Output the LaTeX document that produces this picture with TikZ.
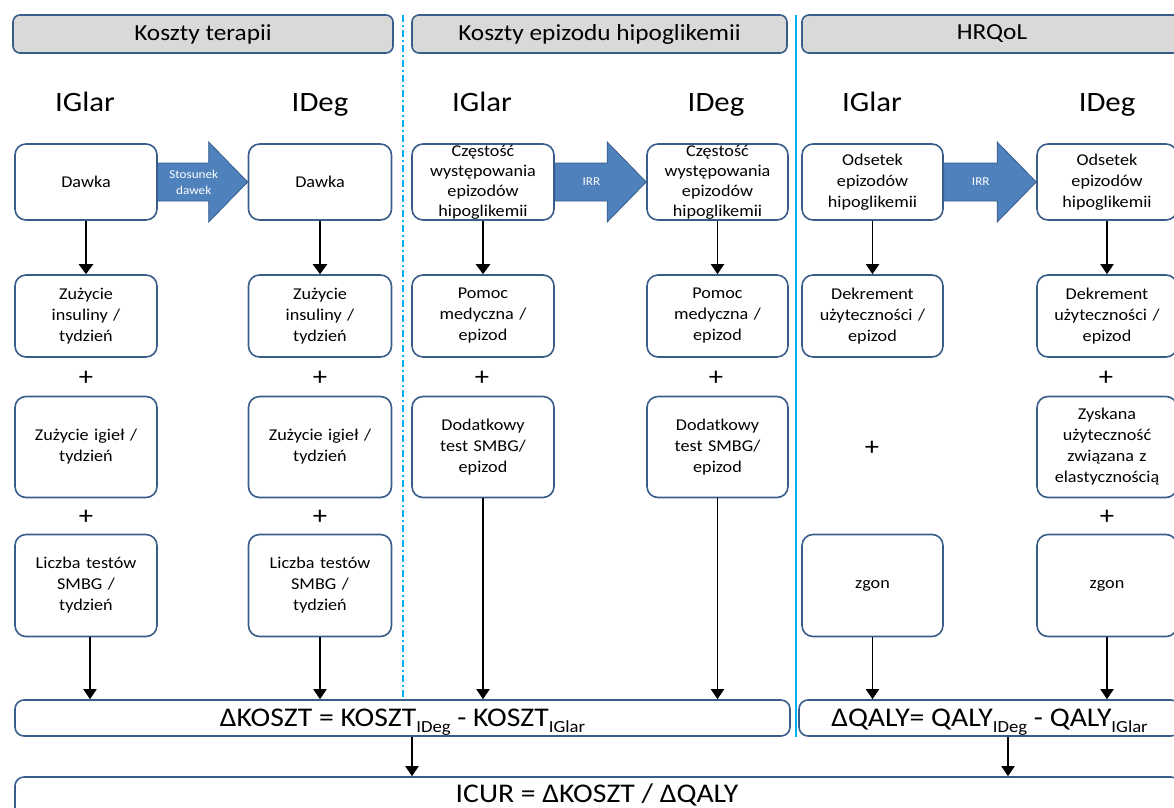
\documentclass[tikz,border=0pt]{standalone}
\usepackage{fontspec}
\setmainfont{Carlito}[FakeStretch=1.1]
\usetikzlibrary{arrows.meta,calc}
\definecolor{boxblue}{RGB}{56,93,138}
\definecolor{arrfill}{RGB}{79,129,189}
\definecolor{hdrgray}{RGB}{217,217,217}
\definecolor{divblue}{RGB}{0,176,240}
\newcommand{\myblockarrow}[3]{%
  \draw[blockarr] ($(#1.east)+(0,-19)$) -- ($(#2.west)+(-39,-19)$) -- ($(#2.west)+(-39,-40)$) -- (#2.west) -- ($(#2.west)+(-39,40)$) -- ($(#2.west)+(-39,19)$) -- ($(#1.east)+(0,19)$) -- cycle;
  \node[arrlabel] at ($(#1.east)!0.4!(#2.west)$) {#3};
}
\newcommand{\mysub}[1]{\raisebox{-6pt}{\fontsize{17}{17}\selectfont #1}}
\begin{document}
\begin{tikzpicture}[x=1pt,y=-1pt,
  box/.style={draw=boxblue, line width=1.6pt, rounded corners=11pt, fill=white, align=center,
    inner sep=0pt, text width=136pt, font=\fontsize{16.5}{21}\selectfont},
  hdr/.style={draw=boxblue, line width=1.6pt, rounded corners=7pt, fill=hdrgray, inner sep=0pt,
    minimum height=38pt, font=\fontsize{23}{23}\selectfont},
  lbl/.style={font=\fontsize{28}{28}\selectfont, inner sep=0pt, anchor=base},
  plus/.style={font=\fontsize{26}{26}\selectfont, inner sep=0pt},
  blockarr/.style={fill=arrfill, draw=boxblue, line width=0.8pt, line join=miter},
  arrlabel/.style={text=white, align=center, inner sep=0pt, font=\fontsize{12}{16}\selectfont},
  thickarr/.style={line width=2.6pt, -{Triangle[width=14pt,length=10pt]}},
  arr/.style={line width=1.8pt, -{Triangle[width=13pt,length=10pt]}},
  formula/.style={draw=boxblue, line width=1.6pt, rounded corners=9pt, fill=white, inner sep=0pt,
    minimum height=36pt, text height=17pt, text depth=0pt, font=\fontsize{27}{27}\selectfont},
]
\useasboundingbox (0,0) rectangle (1174,807);

% dividers
\draw[divblue, line width=2pt, dash pattern=on 7pt off 3pt on 2pt off 3pt] (403,15) -- (403,700);
\draw[divblue, line width=2pt] (795.5,15) -- (795.5,737);

% headers
\node[hdr, minimum width=380pt] (h1) at (203,34) {Koszty terapii};
\node[hdr, minimum width=375pt] (h2) at (599.5,34) {Koszty epizodu hipoglikemii};
\node[hdr, minimum width=380pt] (h3) at (992,34) {HRQoL};

% column labels
\node[lbl] (l1) at (85,111) {IGlar};
\node[lbl] (l2) at (320,111) {IDeg};
\node[lbl] (l3) at (482,111) {IGlar};
\node[lbl] (l4) at (716,111) {IDeg};
\node[lbl] (l5) at (872,111) {IGlar};
\node[lbl] (l6) at (1107,111) {IDeg};

% row 1
\node[box, minimum width=142pt, minimum height=76pt] (a1) at (86,182) {Dawka};
\node[box, minimum width=143pt, minimum height=76pt] (b1) at (320,182) {Dawka};
\node[box, minimum width=142pt, minimum height=76pt, font=\fontsize{16.5}{20}\selectfont] (c1) at (483,182) {Częstość\\występowania\\epizodów\\hipoglikemii};
\node[box, minimum width=141pt, minimum height=76pt, font=\fontsize{16.5}{20}\selectfont] (d1) at (717.5,182) {Częstość\\występowania\\epizodów\\hipoglikemii};
\node[box, minimum width=141pt, minimum height=76pt] (e1) at (872.5,182) {Odsetek\\epizodów\\hipoglikemii};
\node[box, minimum width=140pt, minimum height=76pt] (f1) at (1107,182) {Odsetek\\epizodów\\hipoglikemii};

\myblockarrow{a1}{b1}{Stosunek\\dawek}
\myblockarrow{c1}{d1}{IRR}
\myblockarrow{e1}{f1}{IRR}

% row 2
\node[box, minimum width=142pt, minimum height=82pt] (a2) at (86,316) {Zużycie\\insuliny /\\tydzień};
\node[box, minimum width=143pt, minimum height=82pt] (b2) at (320,316) {Zużycie\\insuliny /\\tydzień};
\node[box, minimum width=142pt, minimum height=82pt] (c2) at (483,316) {Pomoc\\medyczna /\\epizod};
\node[box, minimum width=141pt, minimum height=82pt] (d2) at (717.5,316) {Pomoc\\medyczna /\\epizod};
\node[box, minimum width=141pt, minimum height=82pt] (e2) at (872.5,316) {Dekrement\\użyteczności /\\epizod};
\node[box, minimum width=140pt, minimum height=82pt] (f2) at (1107,316) {Dekrement\\użyteczności /\\epizod};

% row 3
\node[box, minimum width=142pt, minimum height=101pt] (a3) at (86,447) {Zużycie igieł /\\tydzień};
\node[box, minimum width=143pt, minimum height=101pt] (b3) at (320,447) {Zużycie igieł /\\tydzień};
\node[box, minimum width=142pt, minimum height=101pt] (c3) at (483,447) {Dodatkowy\\test SMBG/\\epizod};
\node[box, minimum width=141pt, minimum height=101pt] (d3) at (717.5,447) {Dodatkowy\\test SMBG/\\epizod};
\node[box, minimum width=140pt, minimum height=101pt] (f3) at (1107,447) {Zyskana\\użyteczność\\związana z\\elastycznością};

% row 4
\node[box, minimum width=142pt, minimum height=102pt] (a4) at (86,585.5) {Liczba testów\\SMBG /\\tydzień};
\node[box, minimum width=143pt, minimum height=102pt] (b4) at (320,585.5) {Liczba testów\\SMBG /\\tydzień};
\node[box, minimum width=141pt, minimum height=102pt] (e4) at (872.5,585.5) {zgon};
\node[box, minimum width=140pt, minimum height=102pt] (f4) at (1107,585.5) {zgon};

% plus signs
\node[plus] (p1) at (86,378) {+};
\node[plus] (p2) at (320,378) {+};
\node[plus] (p3) at (482,378) {+};
\node[plus] (p4) at (716,378) {+};
\node[plus] (p5) at (1106,378) {+};
\node[plus] (p6) at (86,517) {+};
\node[plus] (p7) at (320,517) {+};
\node[plus] (p8) at (1107,517) {+};
\node[plus] (p9) at (872,448) {+};

% bottom formula boxes
\node[formula, minimum width=775pt] (dk) at (402.5,718) {ΔKOSZT = KOSZT\mysub{IDeg} - KOSZT\mysub{IGlar}};
\node[formula, minimum width=381pt] (dq) at (989.5,718) {ΔQALY= QALY\mysub{IDeg} - QALY\mysub{IGlar}};
\node[draw=boxblue, line width=1.6pt, rounded corners=9pt, fill=white, minimum width=1165pt, minimum height=60pt, inner sep=0pt] (ic) at (597.5,807) {};
\node[font=\fontsize{27}{27}\selectfont, inner sep=0pt, anchor=base] (ict) at (597,802) {ICUR = ΔKOSZT / ΔQALY};

% arrows row1 -> row2
\draw[thickarr] (a1) -- (a2);
\draw[thickarr] (b1) -- (b2);
\draw[thickarr] (c1.south) -- (c1.south |- c2.north);
\draw[arr] (d1.south) -- (d1.south |- d2.north);
\draw[arr] (e1) -- (e2);
\draw[arr] (f1) -- (f2);

% arrows to bottom boxes
\draw[arr] ($(a4.south)+(4,0)$) -- ($(a4.south |- dk.north)+(4,0)$);
\draw[arr] (b4.south) -- (b4.south |- dk.north);
\draw[arr] (c3.south) -- (c3.south |- dk.north);
\draw[arr] (d3.south) -- (d3.south |- dk.north);
\draw[arr] (e4.south) -- (e4.south |- dq.north);
\draw[arr] (f4.south) -- (f4.south |- dq.north);

% arrows to ICUR
\coordinate (x1) at (412,0);
\coordinate (x2) at (1008,0);
\draw[arr] (x1 |- dk.south) -- (x1 |- ic.north);
\draw[arr] (x2 |- dq.south) -- (x2 |- ic.north);
\end{tikzpicture}
\end{document}
